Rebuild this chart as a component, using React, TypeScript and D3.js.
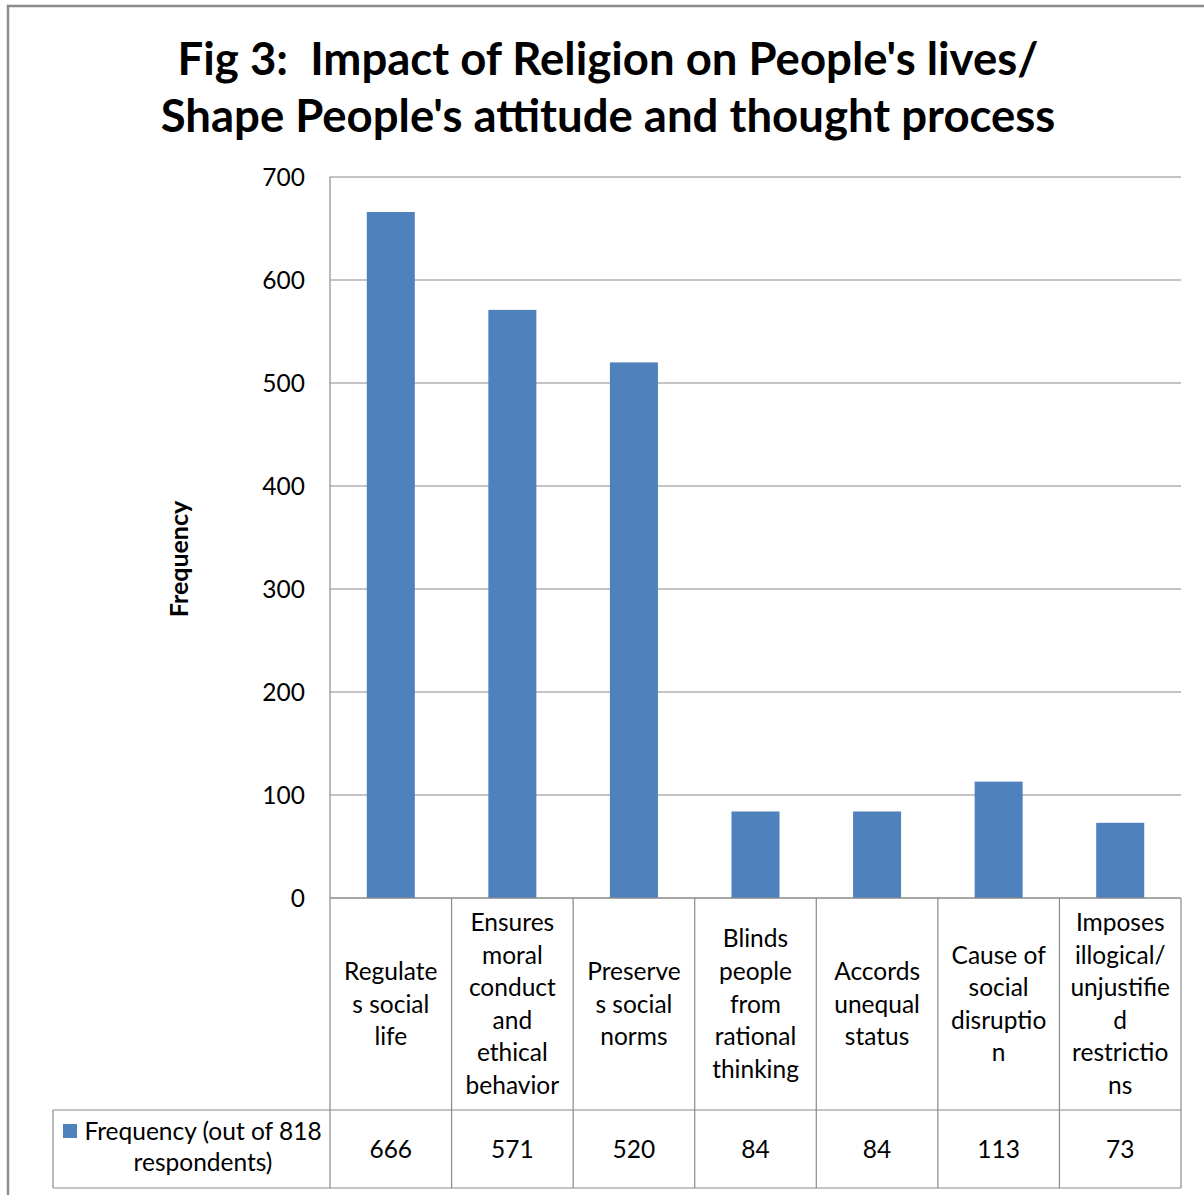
import React from "react";
import * as d3 from "d3";

const titleLines = ["Fig 3:  Impact of Religion on People's lives/", "Shape People's attitude and thought process"];
const categories = [
  ["Regulate", "s social", "life"],
  ["Ensures", "moral", "conduct", "and", "ethical", "behavior"],
  ["Preserve", "s social", "norms"],
  ["Blinds", "people", "from", "rational", "thinking"],
  ["Accords", "unequal", "status"],
  ["Cause of", "social", "disruptio", "n"],
  ["Imposes", "illogical/", "unjustifie", "d", "restrictio", "ns"],
];
const values = [666, 571, 520, 84, 84, 113, 73];
const yTicks = [0, 100, 200, 300, 400, 500, 600, 700];
const seriesName = ["Frequency (out of 818", "respondents)"];
const yAxisTitle = "Frequency";

const W = 1204, H = 1195;
const plotL = 330, plotR = 1181, plotT = 177, plotB = 898;
const catRowB = 1110, valRowB = 1188, legendL = 53;
const FONT = "Lato, 'Open Sans', sans-serif";
const GRID = "#8a8a8a";
const BAR = "#4F81BD";
const FS = 24.5;

export default function App() {
  const y = d3.scaleLinear().domain([0, 700]).range([plotB, plotT]);
  const x = d3.scaleBand<number>().domain(d3.range(values.length)).range([plotL, plotR]).paddingInner(0).paddingOuter(0);
  const bw = x.bandwidth();
  const barW = bw * 0.395;
  const lineH = 32.6;
  return (
    <svg width={W} height={H} style={{ position: "absolute", left: 0, top: 0, background: "#fff" }}>
      <rect x={0} y={0} width={W} height={H} fill="#fff" />
      <rect x={8} y={6} width={W + 20} height={H + 20} fill="none" stroke="#8c8c8c" strokeWidth={2.5} />
      {titleLines.map((t, i) => (
        <text key={i} x={608} y={75 + i * 57} textAnchor="middle" fontFamily={FONT} fontWeight="bold" fontSize={45.5} fill="#000" style={{ whiteSpace: "pre" }}>{t}</text>
      ))}
      {yTicks.map((t) => (
        <g key={t}>
          <line x1={plotL} x2={plotR} y1={y(t)} y2={y(t)} stroke={GRID} strokeWidth={1.2} />
          <text x={305} y={y(t) + 8.5} textAnchor="end" fontFamily={FONT} fontSize={FS} fill="#000">{t}</text>
        </g>
      ))}
      <line x1={plotL} x2={plotL} y1={plotT} y2={plotB} stroke={GRID} strokeWidth={1.2} />
      <text transform={`translate(188,559) rotate(-90)`} textAnchor="middle" fontFamily={FONT} fontWeight="bold" fontSize={25} fill="#000">{yAxisTitle}</text>
      {values.map((v, i) => (
        <rect key={i} x={(x(i) as number) + bw / 2 - barW / 2} y={y(v)} width={barW} height={plotB - y(v)} fill={BAR} />
      ))}
      <g stroke={GRID} strokeWidth={1.2} fill="none">
        <line x1={plotL} x2={plotR} y1={plotB} y2={plotB} />
        <line x1={legendL} x2={plotR} y1={catRowB} y2={catRowB} />
        <line x1={legendL} x2={plotR} y1={valRowB} y2={valRowB} />
        <line x1={legendL} x2={legendL} y1={catRowB} y2={valRowB} />
        {d3.range(values.length + 1).map((i) => {
          const xx = i < values.length ? (x(i) as number) : plotR;
          return <line key={i} x1={xx} x2={xx} y1={plotB} y2={valRowB} />;
        })}
      </g>
      {categories.map((lines, i) => {
        const cx = (x(i) as number) + bw / 2;
        const mid = (plotB + catRowB) / 2;
        const start = mid - ((lines.length - 1) * lineH) / 2;
        return (
          <text key={i} textAnchor="middle" fontFamily={FONT} fontSize={FS} fill="#000">
            {lines.map((l, j) => (
              <tspan key={j} x={cx} y={start + j * lineH + 8.5}>{l}</tspan>
            ))}
          </text>
        );
      })}
      {values.map((v, i) => (
        <text key={i} x={(x(i) as number) + bw / 2} y={(catRowB + valRowB) / 2 + 8.5} textAnchor="middle" fontFamily={FONT} fontSize={FS} fill="#000">{v}</text>
      ))}
      <rect x={63} y={1124} width={14} height={14} fill={BAR} />
      <text fontFamily={FONT} fontSize={FS} fill="#000" textAnchor="middle">
        <tspan x={203} y={1140}>{seriesName[0]}</tspan>
        <tspan x={203} y={1171}>{seriesName[1]}</tspan>
      </text>
    </svg>
  );
}
